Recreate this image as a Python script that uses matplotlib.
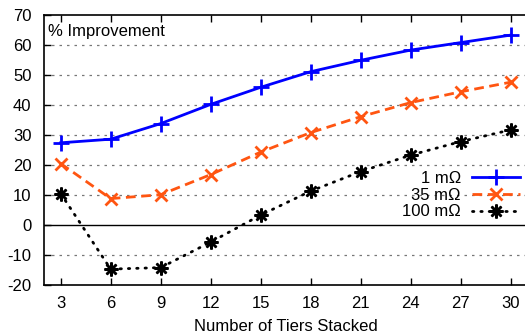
import numpy as np
import matplotlib
matplotlib.use('Agg')
import matplotlib.pyplot as plt

plt.rcParams['font.family'] = ['Liberation Sans', 'DejaVu Sans']
plt.rcParams['font.size'] = 12
plt.rcParams['axes.unicode_minus'] = False

# data
tiers = [3, 6, 9, 12, 15, 18, 21, 24, 27, 30]
r1 = [27.4, 28.6, 33.8, 40.2, 45.9, 51.1, 54.9, 58.3, 60.8, 63.3]
r35 = [20.5, 8.8, 10.1, 16.8, 24.3, 30.8, 36.1, 40.8, 44.4, 47.6]
r100 = [10.5, -14.7, -14.2, -5.7, 3.3, 11.3, 17.8, 23.3, 27.8, 31.7]
labels = ['1 m\u03a9', '35 m\u03a9', '100 m\u03a9']

fig = plt.figure(figsize=(5.25, 3.35), dpi=100)
ax = fig.add_axes([44 / 525, 50 / 335, 483.3 / 525, 270 / 335])

# dotted grid lines (no line at 0, it gets a solid one)
for g in [-10, 10, 20, 30, 40, 50, 60]:
    ax.axhline(g, color='#777777', lw=0.9, ls=(0, (2, 4)), zorder=1)
ax.axhline(0, color='black', lw=1.0, zorder=1)

ax.plot(tiers, r1, color='#0000ff', lw=2, ls='-', marker='+', ms=11, mew=2,
        label=labels[0], zorder=3)
ax.plot(tiers, r35, color='#ff5511', lw=2, ls=(0, (3.5, 2)), marker='x', ms=9, mew=2,
        label=labels[1], zorder=3)
ax.plot(tiers, r100, color='black', lw=2, ls=(0, (0.5, 2.5)), marker=(8, 2, 0), ms=10,
        mew=1.8, dash_capstyle='round', label=labels[2], zorder=3)

ax.set_xlim(2, 31)
ax.set_ylim(-20, 70)
ax.set_xticks(tiers)
ax.set_yticks(range(-20, 71, 10))
ax.tick_params(axis='x', direction='in', top=True, length=5, width=1, pad=8)
ax.tick_params(axis='y', direction='in', length=5, width=1, pad=9)
for s in ax.spines.values():
    s.set_linewidth(1.2)

ax.set_xlabel('Number of Tiers Stacked', labelpad=6)
ax.text(0.008, 0.94, '% Improvement', transform=ax.transAxes, ha='left', va='center')

fig.legend(loc='upper right', bbox_to_anchor=(520 / 525, 1 - 171 / 335),
           frameon=False, markerfirst=False, handlelength=2.9, handletextpad=0.65,
           labelspacing=0.1, borderpad=0, borderaxespad=0)

plt.savefig('out.png', dpi=100)
